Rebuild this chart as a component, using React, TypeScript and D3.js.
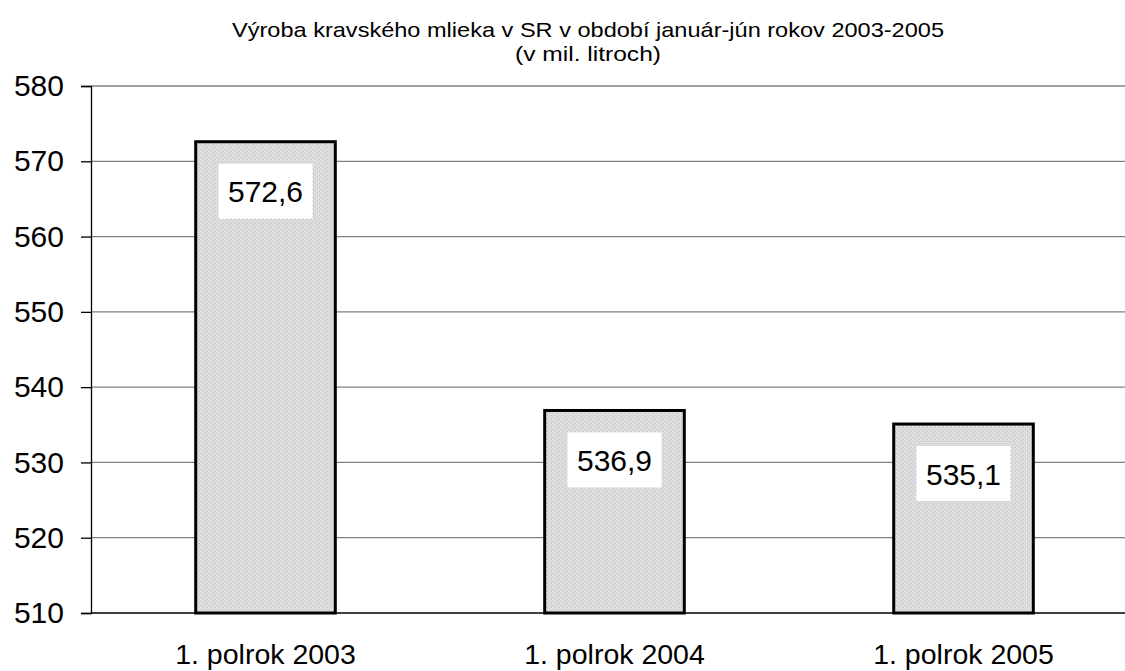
import React, { useEffect, useRef } from "react";
import * as d3 from "d3";

const categories = ["1. polrok 2003", "1. polrok 2004", "1. polrok 2005"];
const values = [572.6, 536.9, 535.1];
const labels = ["572,6", "536,9", "535,1"];
const yTicks = [510, 520, 530, 540, 550, 560, 570, 580];
const titleLines = ["Výroba kravského mlieka v SR v období január-jún rokov 2003-2005", "(v mil. litroch)"];
const titleWidths = [712, 146];

const App = () => {
  const svgRef = useRef<SVGSVGElement>(null);

  useEffect(() => {
    const width = 1125, height = 671;
    const left = 91, right = 1138, top = 86, bottom = 613;

    const svg = d3.select(svgRef.current);
    svg.selectAll("*").remove();
    svg.attr("width", width).attr("height", height);

    const font = "'Liberation Sans', Arial, sans-serif";

    // dotted fill like the Excel pattern
    const pat = svg.append("defs").append("pattern")
      .attr("id", "dots")
      .attr("width", 4).attr("height", 4)
      .attr("patternUnits", "userSpaceOnUse");
    pat.append("rect").attr("width", 4).attr("height", 4).attr("fill", "#dedede");
    pat.append("rect").attr("x", 1).attr("y", 1).attr("width", 1).attr("height", 1).attr("fill", "#bdbdbd");
    pat.append("rect").attr("x", 3).attr("y", 3).attr("width", 1).attr("height", 1).attr("fill", "#bdbdbd");

    const x = d3.scaleBand().domain(categories).range([left, right]).padding(0);
    const y = d3.scaleLinear().domain([510, 580]).range([bottom, top]);

    // grid
    svg.append("g").selectAll("line")
      .data(yTicks.slice(1))
      .enter().append("line")
      .attr("x1", left).attr("x2", width)
      .attr("y1", d => y(d)).attr("y2", d => y(d))
      .attr("stroke", "#808080").attr("stroke-width", 1.3);

    // y axis
    const ax = svg.append("g").attr("transform", `translate(${left},0)`)
      .call(d3.axisLeft(y).tickValues(yTicks).tickSize(10).tickPadding(17).tickFormat(d3.format("d")));
    ax.select(".domain").attr("stroke", "#000").attr("stroke-width", 1.3);
    ax.selectAll(".tick line").attr("stroke", "#000").attr("stroke-width", 1.3);
    ax.selectAll(".tick text").attr("font-family", font).attr("font-size", 30).attr("fill", "#000");

    // baseline
    svg.append("line")
      .attr("x1", left).attr("x2", width)
      .attr("y1", y(510)).attr("y2", y(510))
      .attr("stroke", "#000").attr("stroke-width", 1.3);

    const bw = x.bandwidth() * 0.4;
    const g = svg.append("g");
    categories.forEach((c, i) => {
      const cx = (x(c) as number) + x.bandwidth() / 2;
      g.append("rect")
        .attr("x", cx - bw / 2)
        .attr("y", y(values[i]))
        .attr("width", bw)
        .attr("height", y(510) - y(values[i]))
        .attr("fill", "url(#dots)")
        .attr("stroke", "#000")
        .attr("stroke-width", 3);

      const ly = y(values[i]) + 49;
      g.append("rect")
        .attr("x", cx - 47).attr("y", ly - 27)
        .attr("width", 94).attr("height", 55)
        .attr("fill", "#fff");
      g.append("text")
        .attr("x", cx).attr("y", ly + 1)
        .attr("text-anchor", "middle").attr("dominant-baseline", "central")
        .attr("font-family", font).attr("font-size", 30)
        .text(labels[i]);

      svg.append("text")
        .attr("x", cx).attr("y", 654)
        .attr("text-anchor", "middle").attr("dominant-baseline", "central")
        .attr("font-family", font).attr("font-size", 28.5)
        .text(c);
    });

    // title (narrow, Excel-like)
    titleLines.forEach((t, i) => {
      svg.append("text")
        .attr("x", 588).attr("y", 29 + i * 24)
        .attr("text-anchor", "middle").attr("dominant-baseline", "central")
        .attr("font-family", font).attr("font-size", 21)
        .attr("textLength", titleWidths[i])
        .attr("lengthAdjust", "spacingAndGlyphs")
        .text(t);
    });
  }, []);

  return <svg ref={svgRef} style={{ position: "absolute", left: 0, top: 0, background: "#fff" }} />;
};

export default App;
